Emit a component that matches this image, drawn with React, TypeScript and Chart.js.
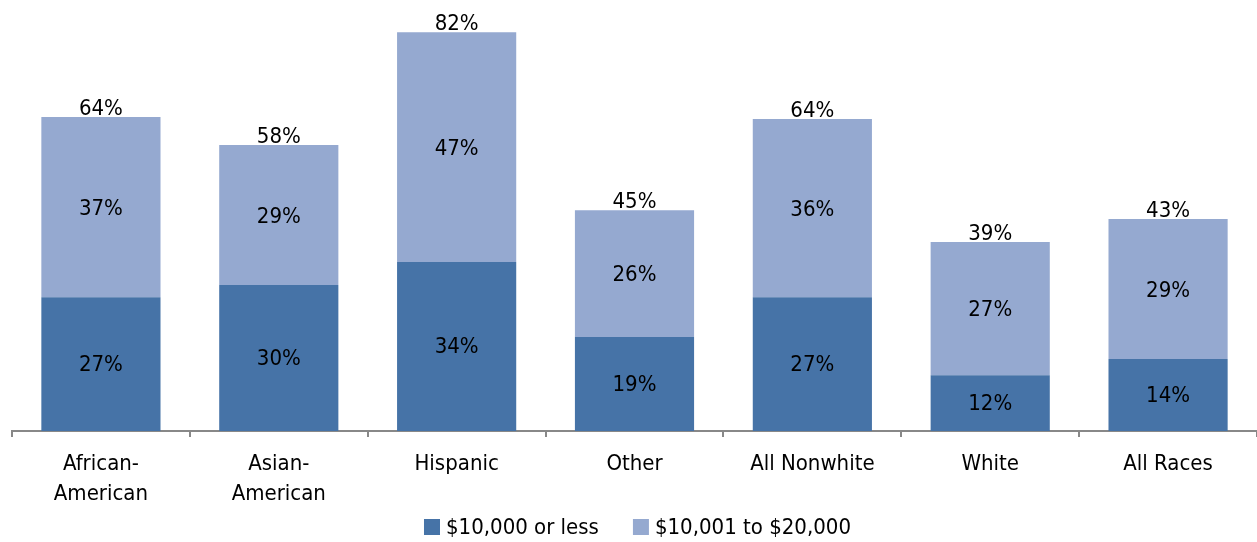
import React, { useEffect, useRef } from "react";
import { Chart, registerables } from "chart.js";

Chart.register(...registerables);

const categories: (string | string[])[] = [
  ["African-", "American"],
  ["Asian-", "American"],
  "Hispanic",
  "Other",
  "All Nonwhite",
  "White",
  "All Races",
];
const lowIncome = [27.3, 29.8, 34.5, 19.2, 27.3, 11.4, 14.7];
const midIncome = [36.8, 28.6, 46.9, 25.9, 36.4, 27.2, 28.6];
const lowLabels = ["27%", "30%", "34%", "19%", "27%", "12%", "14%"];
const midLabels = ["37%", "29%", "47%", "26%", "36%", "27%", "29%"];
const totalLabels = ["64%", "58%", "82%", "45%", "64%", "39%", "43%"];
const seriesNames = ["$10,000 or less", "$10,001 to $20,000"];

const FONT = "'Liberation Sans Narrow', 'DejaVu Sans Condensed', 'Arial Narrow', sans-serif";
const FS = 22;

const labelPlugin = {
  id: "barLabels",
  afterDatasetsDraw(chart: any) {
    const ctx = chart.ctx;
    ctx.save();
    ctx.font = `${FS}px ${FONT}`;
    ctx.fillStyle = "#000";
    ctx.textAlign = "center";
    const m0 = chart.getDatasetMeta(0);
    const m1 = chart.getDatasetMeta(1);
    m0.data.forEach((el: any, i: number) => {
      ctx.textBaseline = "middle";
      ctx.fillText(lowLabels[i], el.x, (el.y + el.base) / 2 + 1);
    });
    m1.data.forEach((el: any, i: number) => {
      ctx.textBaseline = "middle";
      ctx.fillText(midLabels[i], el.x, (el.y + el.base) / 2 + 2);
      ctx.textBaseline = "alphabetic";
      ctx.fillText(totalLabels[i], el.x, el.y - 2);
    });
    ctx.restore();
  },
};

const legendPlugin = {
  id: "customLegend",
  afterDraw(chart: any) {
    const ctx = chart.ctx;
    ctx.save();
    ctx.font = `${FS}px ${FONT}`;
    ctx.textBaseline = "middle";
    ctx.textAlign = "left";
    const box = 16;
    const gap = 6;
    const itemGap = 34;
    const items = chart.data.datasets.map((d: any) => ({
      label: d.label as string,
      color: d.backgroundColor as string,
      w: box + gap + ctx.measureText(d.label).width,
    }));
    const total = items.reduce((s: number, it: any) => s + it.w, 0) + itemGap * (items.length - 1);
    const ca = chart.chartArea;
    let x = (ca.left + ca.right) / 2 - total / 2 + 3;
    const y = 527;
    items.forEach((it: any) => {
      ctx.fillStyle = it.color;
      ctx.fillRect(x, y - box / 2, box, box);
      ctx.fillStyle = "#000";
      ctx.fillText(it.label, x + box + gap, y + 1);
      x += it.w + itemGap;
    });
    ctx.restore();
  },
};

export default function App() {
  const ref = useRef<HTMLCanvasElement>(null);
  useEffect(() => {
    document.body.style.margin = "0";
    const chart = new Chart(ref.current!, {
      type: "bar",
      data: {
        labels: categories,
        datasets: [
          { label: seriesNames[0], data: lowIncome, backgroundColor: "#4673A7" },
          { label: seriesNames[1], data: midIncome, backgroundColor: "#95A9D0" },
        ],
      },
      options: {
        animation: false,
        responsive: false,
        layout: { padding: { left: 12, right: 0, top: 0, bottom: 20 } },
        datasets: { bar: { categoryPercentage: 1, barPercentage: 0.67 } },
        scales: {
          x: {
            stacked: true,
            offset: true,
            grid: {
              display: true,
              drawOnChartArea: false,
              drawTicks: true,
              tickLength: 6,
              offset: true,
              color: "#888",
              lineWidth: 2,
            },
            border: { display: true, color: "#888", width: 2 },
            ticks: {
              color: "#000",
              padding: 13,
              maxRotation: 0,
              autoSkip: false,
              font: { family: FONT, size: FS, lineHeight: 1.34 },
            },
          },
          y: { stacked: true, display: false, min: 0, max: 88 },
        },
        plugins: {
          legend: { display: false },
          tooltip: { enabled: false },
        },
      },
      plugins: [labelPlugin, legendPlugin],
    });
    return () => chart.destroy();
  }, []);
  return (
    <div style={{ width: 1257, height: 542 }}>
      <canvas ref={ref} width={1257} height={542} style={{ display: "block" }} />
    </div>
  );
}
